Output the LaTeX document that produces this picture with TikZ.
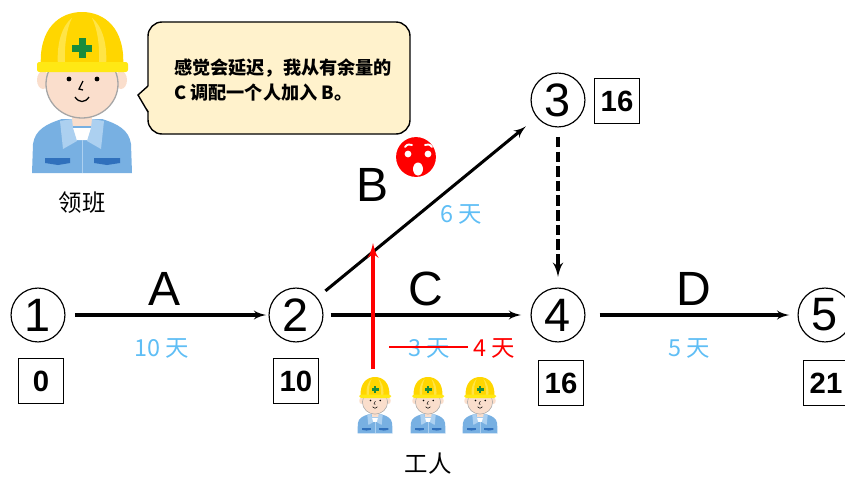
\documentclass[tikz,border=0pt]{standalone}
\usepackage{fontspec}
\setmainfont{Liberation Sans}
\newfontfamily\cjk{Noto Sans CJK SC}
\usetikzlibrary{arrows}
\usetikzlibrary{positioning}

\definecolor{daysblue}{RGB}{95,190,245}
\definecolor{talkfill}{RGB}{255,242,204}
\definecolor{helmet}{RGB}{255,214,0}
\definecolor{ridge}{RGB}{255,228,70}
\definecolor{brim}{RGB}{255,232,20}
\definecolor{cross}{RGB}{25,140,60}
\definecolor{skin}{RGB}{250,222,204}
\definecolor{jacket}{RGB}{120,176,226}
\definecolor{collar}{RGB}{172,208,240}
\definecolor{pocket}{RGB}{48,112,188}

\tikzset{event/.style = {draw, circle, line width=1pt, minimum size=46pt, inner sep=0,
                         font=\fontsize{40}{40}\selectfont}}
\tikzset{slot/.style = {draw, line width=1.2pt, minimum size=38pt, inner sep=0,
                        font=\bfseries\fontsize{25}{25}\selectfont}}
\tikzset{act/.style = {font=\fontsize{41}{41}\selectfont}}
\tikzset{days/.style = {text=daysblue, font=\cjk\fontsize{20}{20}\selectfont}}
\tikzset{arr/.style = {-latex', line width=2.6pt}}
\tikzset{who/.style = {font=\cjk\fontsize{20}{20}\selectfont}}

% worker figure, origin between the eyes, y pointing down
\tikzset{worker/.pic = {
  \fill[jacket] (-50,81) -- (-49,52) .. controls (-47,38) and (-36,32) .. (-20,27)
                -- (20,27) .. controls (36,32) and (47,38) .. (49,52) -- (50,81) -- cycle;
  \fill[skin] (-10,12) rectangle (10,34);
  \fill[white] (-10,36) -- (10,36) -- (8,48) -- (-8,48) -- cycle;
  \fill[collar] (-10,27) -- (-22,29) -- (-19,57) -- (-5,49) -- (-9,36) -- cycle;
  \fill[collar] (10,27) -- (22,29) -- (19,57) -- (5,49) -- (9,36) -- cycle;
  \draw[collar, line width=0.5pt] (0,48) -- (0,81);
  \fill[pocket] (-37,66) -- (-12,66) -- (-12,71) -- (-24,73) -- (-37,71) -- cycle;
  \fill[pocket] (12,66) -- (38,66) -- (38,71) -- (25,73) -- (12,71) -- cycle;
  % head
  \fill[skin] (-39,-12) ellipse (6 and 9);
  \fill[skin] (39,-12) ellipse (6 and 9);
  \filldraw[fill=skin, draw=gray!70] (0,-8) ellipse (36 and 34);
  \fill (-13,-13) circle (2.4);
  \fill (15,-13) circle (2.4);
  \draw (1,-11) -- (-3,-3) -- (1,-2);
  \draw (-7,5) .. controls (-3,11) and (3,11) .. (7,5);
  % helmet
  \fill[helmet] (-41,-24) .. controls (-44,-64) and (-22,-80) .. (0,-80)
                .. controls (22,-80) and (44,-64) .. (41,-24) -- cycle;
  \fill[ridge] (-24,-26) .. controls (-26,-52) and (-18,-68) .. (-10,-74)
               .. controls (-15,-64) and (-18,-48) .. (-17,-26) -- cycle;
  \fill[ridge] (24,-26) .. controls (26,-52) and (18,-68) .. (10,-74)
               .. controls (15,-64) and (18,-48) .. (17,-26) -- cycle;
  \fill[brim, rounded corners=2pt] (-45,-30) rectangle (46,-20);
  \fill[cross] (-3.5,-54) rectangle (3.5,-34);
  \fill[cross] (-10,-47.5) rectangle (10,-40.5);
}}

\begin{document}
\begin{tikzpicture}[x=0.03cm, y=-0.03cm]
  \clip (0,0) rectangle (845,476);

  % events
  \node [event] (n1) at (38,315) {1};
  \node [event] (n2) at (296,315) {2};
  \node [event] (n3) at (558,100) {3};
  \node [event] (n4) at (558,315) {4};
  \node [event] (n5) at (825,315) {5};

  \node [slot] (t1) at (41,381) {0};
  \node [slot] (t2) at (296,381) {10};
  \node [slot] (t3) at (617,101) {16};
  \node [slot] (t4) at (561,383) {16};
  \node [slot] (t5) at (826,383) {21};

  % activities
  \draw [arr, shorten <=8pt, shorten >=2pt] (n1) -- (n2);
  \draw [arr, shorten <=6pt, shorten >=8pt] (n2) -- (n4);
  \draw [arr, shorten <=9pt, shorten >=12pt] (n2) -- (n3);
  \draw [arr, shorten <=12pt, shorten >=7pt] (n4) -- (n5);
  \draw [arr, line width=3.2pt, dash pattern=on 9pt off 3.5pt, shorten <=8pt, shorten >=9pt] (n3) -- (n4);

  \node [act] (la) at (165,289) {A};
  \node [act] (lb) at (373,185) {B};
  \node [act] (lc) at (426,289) {C};
  \node [act] (ld) at (694,289) {D};

  \node [days] (da) at (162,348) {10 天};
  \node [days] (db) at (461,214) {6 天};
  \node [days] (dc) at (429,348) {3 天};
  \node [days, text=red] (dcnew) at (494,348) {4 天};
  \draw [red, line width=1.6pt] (389,347) -- (468,347);
  \node [days] (dd) at (689,348) {5 天};

  % shocked face
  \node [circle, fill=red, minimum size=34pt, inner sep=0] (shock) at (416,157) {};
  \fill [white] (408,154) circle (3.4);
  \fill [white] (428,154) circle (3.4);
  \draw [white, line width=1.6pt, line cap=round] (405,147) .. controls (407,144) and (410,144) .. (412,145);
  \draw [white, line width=1.6pt, line cap=round] (425,145) .. controls (427,144) and (430,144) .. (432,147);
  \fill [white] (418,169) ellipse (5 and 6.5);

  % leader and his remark
  \pic [line width=1.1pt] at (82,92) {worker};
  \node [who] (lead) at (82,203) {领班};
  \node [draw, line width=1.2pt, fill=talkfill, rounded corners=12pt,
         minimum width=223.6pt, minimum height=95.6pt] (talk) at (279,78) {};
  \fill [talkfill] (150,85) -- (138,95) -- (150,113) -- cycle;
  \draw [line width=1.2pt] (148,86) -- (138,95) -- (148,112);
  \node [anchor=west, align=left, font=\cjk\bfseries\fontsize{15.5}{22}\selectfont]
        (say) at (170,80) {感觉会延迟，我从有余量的\\C 调配一个人加入 B。};

  % crew of C
  \foreach \x [count=\i] in {375,428,480}
    \pic [scale=0.35, line width=0.45pt] at (\x,405) {worker};
  \node [who] (crew) at (428,464) {工人};

  \coordinate (lift) at (373,369);
  \coordinate (join) at (373,243);
  \draw [-latex', red, line width=3.3pt] (lift) -- (join);
\end{tikzpicture}
\end{document}
